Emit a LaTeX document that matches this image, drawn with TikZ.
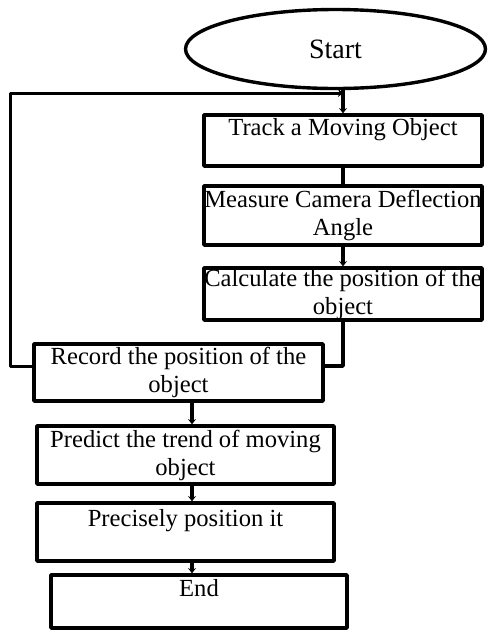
\documentclass[tikz,border=0pt]{standalone}
\usepackage{fontspec}
\setmainfont{Liberation Serif}
\usetikzlibrary{shapes.geometric,arrows.meta}
\tikzset{stepbox/.style={draw, line width=3.6pt, rectangle, inner sep=0pt, align=center},
	link/.style={line width=3.4pt}}
\begin{document}
\begin{tikzpicture}[x=1pt, y=-1pt, font=\fontsize{24.6}{28}\selectfont, line join=round,
			>={Stealth[length=5pt,width=8pt]}]
			\useasboundingbox (0,0) rectangle (489,633);
			\node[draw, ellipse, line width=3.4pt, minimum width=300pt, minimum height=79pt,
				inner sep=0pt, font=\fontsize{28}{32}\selectfont] (start) at (335.5,49) {Start};
			\node[stepbox, minimum width=278pt, minimum height=51pt] (track) at (343,140.5)
				{Track a Moving Object\\\mbox{}};
			\node[stepbox, minimum width=278pt, minimum height=59pt] (measure) at (343,215.5)
				{Measure Camera Deflection\\Angle};
			\node[stepbox, minimum width=278pt, minimum height=52pt] (calc) at (343,294)
				{Calculate the position of the\\object};
			\node[stepbox, minimum width=289pt, minimum height=57pt] (record) at (178.5,372.5)
				{Record the position of the\\object};
			\node[stepbox, minimum width=297pt, minimum height=58pt] (predict) at (185.5,455)
				{Predict the trend of moving\\object};
			\node[stepbox, minimum width=297pt, minimum height=58pt] (precise) at (185.5,532)
				{Precisely position it\\\mbox{}};
			\node[stepbox, minimum width=296pt, minimum height=53pt] (end) at (199,601.5)
				{End\\\mbox{}};
			\path (track.north |- 0,93) coordinate (loop);
			% main flow
			\draw[link, ->] (start.south -| track.north) -- (track.north);
			\draw[link] (track) -- (measure);
			\draw[link, ->] (measure) -- (calc);
			\draw[link] (calc.south) |- ([yshift=6.5pt]record.east);
			\foreach \a/\b in {record/predict, predict/precise, precise/end}
			\draw[link, ->] ([xshift=6.5pt]predict.north |- \a.south) -- ([xshift=6.5pt]predict.north |- \b.north);
			% back to tracking
			\draw[line width=3pt, ->] ([yshift=6.5pt]record.west) -- ++(-22,0) |- (loop);
	\end{tikzpicture}
\end{document}
